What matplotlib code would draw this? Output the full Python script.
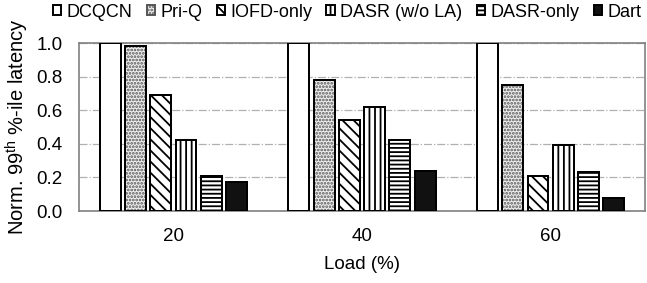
import matplotlib
matplotlib.use("Agg")
import matplotlib.pyplot as plt
import numpy as np

plt.rcParams["font.family"] = ["Liberation Sans", "DejaVu Sans"]
plt.rcParams["mathtext.default"] = "regular"
plt.rcParams["hatch.linewidth"] = 1.3

loads = ["20", "40", "60"]
schemes = ["DCQCN", "Pri-Q", "IOFD-only", "DASR (w/o LA)", "DASR-only", "Dart"]
dcqcn = [1.0, 1.0, 1.0]
priq = [0.98, 0.78, 0.75]
iofd = [0.69, 0.54, 0.21]
dasr_wo_la = [0.42, 0.62, 0.39]
dasr_only = [0.21, 0.42, 0.23]
dart = [0.17, 0.24, 0.08]

series = [dcqcn, priq, iofd, dasr_wo_la, dasr_only, dart]
fills = ["white", "#eeeeee", "white", "white", "white", "#111111"]
hatches = [None, ".....", "\\\\\\", "|||", "----", None]
hatch_colors = ["black", "#555555", "black", "black", "black", "black"]

fig = plt.figure(figsize=(6.47, 2.83), dpi=100)
ax = fig.add_axes([0.1221, 0.2544, 0.8748, 0.5936])

x = np.arange(len(loads))
step = 0.134
width = 0.111
for i, vals in enumerate(series):
    pos = x + (i - 2.5) * step
    ax.bar(pos, vals, width, color=fills[i], hatch=hatches[i],
           edgecolor=hatch_colors[i], linewidth=1.4, label=schemes[i], zorder=3)
    # black outline on top
    ax.bar(pos, vals, width, fill=False, edgecolor="black", linewidth=1.4, zorder=4)

ax.set_xlim(-0.5, 2.5)
ax.set_ylim(0, 1.0)
ax.set_yticks([0, 0.2, 0.4, 0.6, 0.8, 1.0])
ax.set_yticklabels(["0.0", "0.2", "0.4", "0.6", "0.8", "1.0"])
ax.set_xticks(x)
ax.set_xticklabels(loads)
ax.tick_params(length=0, labelsize=13.5, pad=12)
ax.yaxis.grid(True, color="#b0b0b0", linestyle="-.", linewidth=0.9, zorder=0)
for s in ax.spines.values():
    s.set_color("#808080")
    s.set_linewidth(1.2)

ax.set_xlabel("Load (%)", fontsize=13.5, labelpad=8)
ax.set_ylabel("Norm. 99$^{th}$ %-ile latency", fontsize=14.5, labelpad=4)

fig.legend(loc="upper left", bbox_to_anchor=(0.08, 0.99), ncol=6, frameon=False,
           fontsize=13, handlelength=0.45, handleheight=0.45, handletextpad=0.3,
           columnspacing=0.8, borderaxespad=0.0, borderpad=0.05)

fig.savefig("out.png", dpi=100)
